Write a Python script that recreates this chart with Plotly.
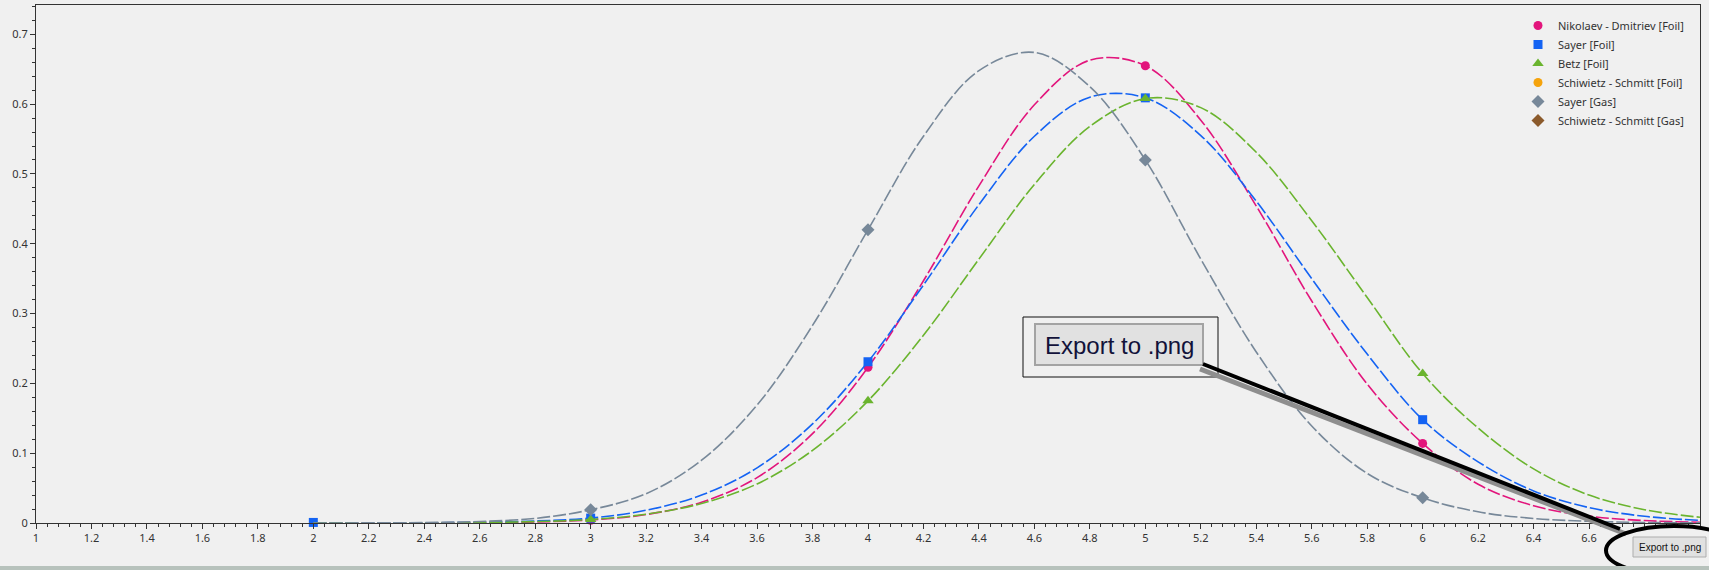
import plotly.graph_objects as go

# ---------------- data ----------------
x_curve = [2.0, 2.2, 2.4, 2.6, 2.8, 3.0, 3.2, 3.4, 3.6, 3.8, 4.0, 4.2, 4.4,
           4.6, 4.8, 5.0, 5.2, 5.4, 5.6, 5.8, 6.0, 6.2, 6.4, 6.6, 6.8, 7.0]

nikolaev_curve = [0.0, 0.00002, 0.0001, 0.0004, 0.0014, 0.0044, 0.0121, 0.0298,
                  0.065, 0.128, 0.223, 0.347, 0.483, 0.599, 0.663, 0.655, 0.577,
                  0.454, 0.318, 0.199, 0.114, 0.0555, 0.0247, 0.0098, 0.0035, 0.0011]
sayer_foil_curve = [0.00002, 0.0001, 0.0003, 0.001, 0.0029, 0.007, 0.0183, 0.040,
                    0.079, 0.142, 0.231, 0.341, 0.456, 0.554, 0.610, 0.609, 0.555,
                    0.461, 0.350, 0.242, 0.148, 0.0876, 0.046, 0.022, 0.0096, 0.0038]
betz_curve = [0.00002, 0.00006, 0.0002, 0.0007, 0.002, 0.005, 0.0126, 0.028,
              0.056, 0.104, 0.175, 0.269, 0.378, 0.485, 0.568, 0.608, 0.595,
              0.531, 0.433, 0.323, 0.214, 0.136, 0.0775, 0.040, 0.019, 0.0082]
sayer_gas_curve = [0.0, 0.0002, 0.0006, 0.0022, 0.0066, 0.019, 0.042, 0.090,
                   0.169, 0.283, 0.420, 0.554, 0.648, 0.674, 0.625, 0.520, 0.378,
                   0.245, 0.139, 0.071, 0.036, 0.016, 0.0065, 0.0025, 0.0008, 0.0002]

nikolaev_x = [3, 4, 5, 6]
nikolaev_y = [0.004, 0.223, 0.655, 0.114]
sayer_foil_x = [2, 3, 4, 5, 6]
sayer_foil_y = [0.0008, 0.007, 0.231, 0.609, 0.148]
betz_x = [3, 4, 5, 6]
betz_y = [0.005, 0.175, 0.608, 0.214]
schiwietz_foil_x = []
schiwietz_foil_y = []
sayer_gas_x = [3, 4, 5, 6]
sayer_gas_y = [0.019, 0.420, 0.520, 0.036]
schiwietz_gas_x = []
schiwietz_gas_y = []

x_tickvals = [1.0, 1.2, 1.4, 1.6, 1.8, 2.0, 2.2, 2.4, 2.6, 2.8, 3.0, 3.2, 3.4, 3.6,
              3.8, 4.0, 4.2, 4.4, 4.6, 4.8, 5.0, 5.2, 5.4, 5.6, 5.8, 6.0, 6.2, 6.4,
              6.6, 6.8, 7.0]
# labels 6.8 and 7 are hidden under the export button in the reference
x_ticktext = ["1", "1.2", "1.4", "1.6", "1.8", "2", "2.2", "2.4", "2.6", "2.8", "3",
              "3.2", "3.4", "3.6", "3.8", "4", "4.2", "4.4", "4.6", "4.8", "5", "5.2",
              "5.4", "5.6", "5.8", "6", "6.2", "6.4", "6.6", "", ""]

series = [
    ("Nikolaev - Dmitriev [Foil]", "#E2157C", "circle", 9, x_curve, nikolaev_curve, nikolaev_x, nikolaev_y),
    ("Sayer [Foil]", "#1463F3", "square", 9, x_curve, sayer_foil_curve, sayer_foil_x, sayer_foil_y),
    ("Betz [Foil]", "#6AB42E", "triangle-up", 10, x_curve, betz_curve, betz_x, betz_y),
    ("Schiwietz - Schmitt [Foil]", "#F5A30C", "circle", 9, [], [], schiwietz_foil_x, schiwietz_foil_y),
    ("Sayer [Gas]", "#778899", "diamond", 10, x_curve, sayer_gas_curve, sayer_gas_x, sayer_gas_y),
    ("Schiwietz - Schmitt [Gas]", "#8B5A2B", "diamond", 10, [], [], schiwietz_gas_x, schiwietz_gas_y),
]

# ---------------- layout constants ----------------
W, H = 1709, 570
ML, MR, MT, MB = 36, 9, 5, 47
PW, PH = W - ML - MR, H - MT - MB
BG = "#F0F0F0"


def px(xp):
    return (xp - ML) / PW


def py(yp):
    return (H - MB - yp) / PH


fig = go.Figure()
for name, color, sym, size, cx, cy, mx, my in series:
    if cx:
        fig.add_trace(go.Scatter(
            x=cx, y=cy, mode="lines",
            line=dict(color=color, width=1.6, dash="13px,3px", shape="spline", smoothing=1.0),
            showlegend=False, legendgroup=name, hoverinfo="skip"))
    fig.add_trace(go.Scatter(
        x=mx if mx else [None], y=my if my else [None], mode="markers", name=name,
        legendgroup=name,
        marker=dict(color=color, symbol=sym, size=size, line=dict(width=0)),
        cliponaxis=False))

axis_common = dict(
    showgrid=False, zeroline=False, showline=True, linecolor="#333333", linewidth=1,
    mirror=True, ticks="outside", ticklen=5, tickcolor="#333333", tickwidth=1,
    tickfont=dict(family="Noto Sans", size=11, color="#333333"), automargin=False,
)

fig.update_layout(
    width=W, height=H,
    margin=dict(l=ML, r=MR, t=MT, b=MB, autoexpand=False),
    paper_bgcolor=BG, plot_bgcolor=BG,
    xaxis=dict(range=[1, 7], tickvals=x_tickvals, ticktext=x_ticktext,
               minor=dict(dtick=0.04, tick0=1, ticks="outside", ticklen=3, tickcolor="#333333"),
               **axis_common),
    yaxis=dict(range=[0, 0.742], dtick=0.1, tick0=0,
               minor=dict(dtick=0.02, ticks="outside", ticklen=3, tickcolor="#333333"),
               **axis_common),
    legend=dict(x=px(1518), y=py(11), xanchor="left", yanchor="top",
                bgcolor="rgba(0,0,0,0)", borderwidth=0,
                font=dict(family="Noto Sans", size=11, color="#333333"),
                tracegroupgap=0),
    showlegend=True,
)

shapes = []
# zoomed callout of the export button
shapes.append(dict(type="rect", xref="paper", yref="paper",
                   x0=px(1023), x1=px(1218), y0=py(377), y1=py(317),
                   line=dict(color="#111111", width=1), fillcolor=BG, layer="above"))
shapes.append(dict(type="rect", xref="paper", yref="paper",
                   x0=px(1035), x1=px(1203), y0=py(365), y1=py(324),
                   line=dict(color="#A3A3A3", width=2), fillcolor="#E1E1E1", layer="above"))
# pointer line with shadow
shapes.append(dict(type="line", xref="paper", yref="paper",
                   x0=px(1200), y0=py(369), x1=px(1626), y1=py(534),
                   line=dict(color="#8E8E8E", width=5), layer="above"))
shapes.append(dict(type="line", xref="paper", yref="paper",
                   x0=px(1203), y0=py(364), x1=px(1620), y1=py(529),
                   line=dict(color="#000000", width=4), layer="above"))
# small real button
shapes.append(dict(type="rect", xref="paper", yref="paper",
                   x0=px(1633), x1=px(1706), y0=py(557), y1=py(537),
                   line=dict(color="#ADADAD", width=1), fillcolor="#E1E1E1", layer="above"))
# ellipse highlight
shapes.append(dict(type="circle", xref="paper", yref="paper",
                   x0=px(1606), x1=px(1742), y0=py(575), y1=py(526),
                   line=dict(color="#000000", width=4), layer="above"))
# window bottom strip
shapes.append(dict(type="rect", xref="paper", yref="paper",
                   x0=px(0), x1=px(W), y0=py(H), y1=py(566),
                   line=dict(width=0), fillcolor="#B7C2BC", layer="above"))
fig.update_layout(shapes=shapes)

fig.add_annotation(xref="paper", yref="paper", x=px(1119), y=py(345),
                   xanchor="center", yanchor="middle",
                   text="Export to .png", showarrow=False,
                   font=dict(family="Liberation Sans", size=24, color="#12123A"))
fig.add_annotation(xref="paper", yref="paper", x=px(1670), y=py(547),
                   xanchor="center", yanchor="middle",
                   text="Export to .png", showarrow=False,
                   font=dict(family="Liberation Sans", size=10, color="#111111"))

fig.write_html("out.html", config={"displayModeBar": False},
               post_script="document.body.style.margin='0px';")
